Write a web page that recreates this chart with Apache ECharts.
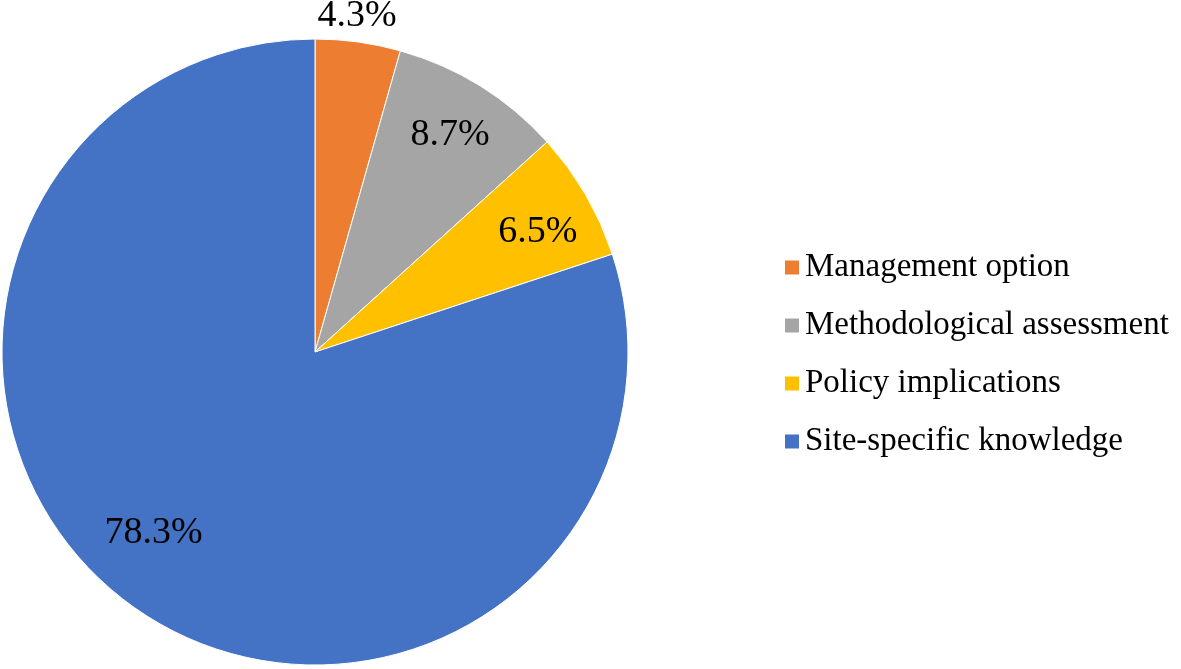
<!DOCTYPE html>
<html>
<head>
<meta charset="utf-8">
<script src="https://cdn.jsdelivr.net/npm/echarts@6/dist/echarts.min.js"></script>
<style>
html,body{margin:0;padding:0;background:#fff;}
#chart{width:1181px;height:669px;}
</style>
</head>
<body>
<div id="chart"></div>
<script>
const categories = ['Management option', 'Methodological assessment', 'Policy implications', 'Site-specific knowledge'];
const percents = [4.3, 8.7, 6.5, 78.3];
const colors = ['#ED7D31', '#A5A5A5', '#FFC000', '#4472C4'];
// label nudges (px) from the default inside position, per slice
const labelNudgeX = [20, 51, 85, -68];
const labelNudgeY = [-178, -81, -40, 52];

const font = '"Liberation Serif", "Times New Roman", serif';
const chart = echarts.init(document.getElementById('chart'));
chart.setOption({
  backgroundColor: '#fff',
  animation: false,
  color: colors,
  legend: {
    orient: 'vertical',
    left: 783,
    top: 251,
    padding: 0,
    itemWidth: 16,
    itemHeight: 16,
    itemGap: 25,
    icon: 'rect',
    textStyle: { fontFamily: font, fontSize: 33, color: '#000' },
    data: categories
  },
  series: [{
    type: 'pie',
    center: [315, 352],
    radius: 313,
    startAngle: 90,
    clockwise: true,
    avoidLabelOverlap: false,
    itemStyle: { borderColor: '#fff', borderWidth: 1 },
    label: {
      show: true,
      position: 'inside',
      fontFamily: font,
      fontSize: 38,
      color: '#000',
      formatter: p => p.value.toFixed(1) + '%'
    },
    labelLine: { show: false },
    labelLayout: function (params) {
      return { dx: labelNudgeX[params.dataIndex], dy: labelNudgeY[params.dataIndex] };
    },
    data: categories.map((c, i) => ({ name: c, value: percents[i] }))
  }]
});
</script>
</body>
</html>
